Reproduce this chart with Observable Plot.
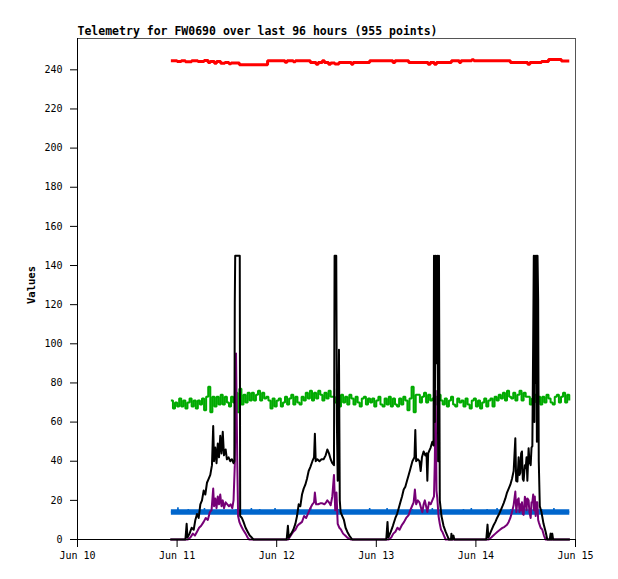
<!DOCTYPE html>
<html><head><meta charset="utf-8">
<script src="https://cdn.jsdelivr.net/npm/d3@7"></script>
<script src="https://cdn.jsdelivr.net/npm/@observablehq/plot@0.6"></script>
<style>html,body{margin:0;padding:0;background:#fff} svg{display:block}</style>
</head><body><div id="chart"></div>
<script>
const titleText = "Telemetry for FW0690 over last 96 hours (955 points)";
const yLabel = "Values";
const dayTicks = ["2024-06-10", "2024-06-11", "2024-06-12", "2024-06-13", "2024-06-14", "2024-06-15"];
const yTicks = [0, 20, 40, 60, 80, 100, 120, 140, 160, 180, 200, 220, 240];

// readings: [hours since Jun 10 00:00, value]
const redReadings = [[22.5,244.6],[24,244.3],[25,244.6],[26,244.1],[27.5,244.6],[29,244.3],[30.5,244.8],[31.5,243.8],[32,244.3],[33,243.3],
 [33.5,244.3],[34.5,243.3],[35.5,243.8],[36.5,243.1],[37,243.5],[39,242.6],[45.8,244.6],[50,243.9],[50.5,244.6],[52,244.1],
 [52.5,244.6],[56.1,243.8],[57.5,242.8],[58,243.8],[59,244.6],[59.5,243.8],[60.5,242.8],[61,243.5],[62,243],[63,243.8],
 [66,242.9],[66.4,243.8],[70.4,244.6],[76,243.7],[76.5,244.6],[79.8,243.8],[84.5,242.9],[85,243.8],[86,242.9],[86.5,243.8],
 [90.1,244.6],[92,243.8],[92.4,244.6],[95,245.1],[95.5,244.6],[104.3,243.8],[108.5,242.9],[109,243.8],[111.8,244.3],[113.5,245.3],
 [116.6,244.5],[118.5,244.5]];

const greenStartHour = 22.5, greenStepHours = 0.5;
const greenValues = [
 71,67,70,68,72,68,71,67,70,72,68,71,67,71,69,
 72,66,73,78,65,73,68,
 73,69,74,69,73,70,68,73,70,
 75,65,77,69,74,70,75,71,
 75,71,74,76,71,75,72,73,
 71,67,72,68,71,72,68,70,
 73,69,72,74,69,73,70,69,73,71,
 75,72,76,71,75,72,76,74,71,75,72,76,73,
 73,70,77,68,74,70,73,69,74,
 72,69,73,70,68,72,73,69,72,70,
 72,68,71,73,69,68,72,69,73,68,72,69,68,72,69,73,
 71,66,72,78,65,74,
 74,70,73,75,70,74,71,72,
 73,69,74,
 71,69,72,68,71,73,69,68,72,70,
 71,68,72,69,67,71,72,68,71,67,70,72,68,71,72,68,
 73,71,74,72,75,71,76,73,72,75,71,74,76,71,75,73,
 73,69,72,74,70,73,69,73,70,74,72,70,69,73,74,70,73,75,70,74,71];

const blueReadings = [[22.5,14],[23,14],
 [24.1,14],[24.2,16.5],[24.3,14],[26.6,14],[26.7,15.5],[26.8,14],[30.5,14],[30.6,16],[30.7,14],[34,14],
 [38.1,14],[38.2,15.5],[38.3,14],[41.8,14],[41.9,16],[42,14],[43.8,14],[43.9,15.5],[44,14],
 [47.5,14],[47.6,16],[47.7,14],[53.2,14],[53.3,15.5],[53.4,14],[56.1,14],[56.2,16],[56.3,14],
 [62.7,14],[62.8,15.5],[62.9,14],[70.3,14],[70.4,16],[70.5,14],[74.5,14],[74.6,16],[74.7,14],
 [80.6,14],[80.7,15.5],[80.8,14],[85.4,14],[85.5,16],[85.6,14],[92.9,14],[93,15.5],[93.1,14],
 [94.8,14],[94.9,16],[95,14],[98.6,14],[98.7,15.5],[98.8,14],[101,14],[101.1,16],[101.2,14],
 [104.3,14],[104.4,15.5],[104.5,14],[108.1,14],[108.2,16],[108.3,14],[111.8,14],[111.9,15.5],[112,14],
 [114.7,14],[114.8,16],[114.9,14],[118.5,14]];

const blackReadings = [
 [22.5,0],[26,0],[26.3,8],[26.5,1],[27,3],[27.5,6],[28,5],[28.4,10],[28.8,13],[29.2,11],[29.6,18],[30,20],[30.4,25],[30.8,23],
 [31.2,29],[31.6,31],[32,33],[32.4,38],[32.7,58],[32.9,40],[33.2,47],[33.5,39],[33.8,49],[34.1,42],[34.4,53],[34.7,44],[35,55],
 [35.3,43],[35.7,46],[36,41],[36.4,42],[36.8,40],[37.2,41],[37.6,39],[37.8,40],[37.9,121],[38,145],[39.1,145],[39.2,12],[39.6,11],
 [40,9],[40.5,6],[41,4],[41.5,2],[42,1],[42.4,0],
 [50.4,0],[50.7,7],[50.9,1],[51.5,3],[52,5],[52.5,8],[52.9,12],[53.3,18],[53.7,17],[54.1,23],[54.5,26],[54.9,28],[55.3,31],
 [55.7,35],[56.1,37],[56.6,40],[57,42],[57.2,54],[57.4,40],[57.8,41],[58.3,40],[58.8,41],[59.3,41],[59.8,43],[60.2,46],[60.6,44],
 [61,41],[61.4,39],[61.8,38],[61.95,145],[62.35,145],[62.5,60],[62.7,30],[63,97],[63.2,20],[63.4,14],[63.8,12],[64.2,10],[64.6,6],
 [65,4],[65.5,2],[66.2,0],
 [74.4,0],[74.7,9],[74.9,1],[75.5,4],[76,7],[76.6,11],[77,13],[77.4,16],[77.8,19],[78.2,22],[78.6,25.5],[79,27],[79.4,30],[79.8,33],
 [80.2,36],[80.7,40],[81.2,42],[81.4,56],[81.6,40],[82,41],[82.4,40],[82.7,35],[83,42],[83.4,45],[83.8,43],[84.1,44],[84.3,30],
 [84.5,44],[84.7,45],[85.1,47],[85.5,50],[85.8,48],[85.9,145],[86.1,60],[86.3,145],[86.5,90],[86.7,145],[86.9,40],[87.1,145],
 [87.3,20],[87.7,12],[88.2,7],[88.7,4],[89.1,2],[89.5,0],[90,0],[90.1,3],[90.3,0],[90.6,2],[90.8,0],
 [98.5,0],[98.8,7.6],[99,1],[99.6,4],[100.2,7],[100.7,9],[101.1,11],[101.5,12.6],[102,15],[102.4,17],[102.7,18.6],[103.1,21],
 [103.5,24],[103.9,26],[104.3,28],[104.7,31],[105.1,35],[105.5,51.7],[105.7,30],[106,29.6],[106.3,42],[106.5,33],[106.7,34],
 [106.9,44],[107.1,45],[107.3,31],[107.5,30],[107.8,38],[108,36.4],[108.2,42],[108.4,30],[108.7,46.6],[108.9,40],[109.2,38],
 [109.4,47],[109.6,47.7],[109.8,101],[109.95,145],[110.1,60],[110.25,145],[110.4,80],[110.55,145],[110.7,50],[110.85,145],
 [111,123],[111.15,40],[111.4,17],[111.8,14],[112.3,8],[112.8,4],[113.2,0],[113.8,0],[114,3],[114.2,0],[114.4,3],[114.6,0],[118.5,0]];

const purpleReadings = [
 [22.5,0],[26.6,0],[27.2,1],[27.8,3],[28.3,2],[28.8,4],[29.3,6],[29.8,7],[30.4,9],[30.9,11],[31.4,10],[31.9,14],[32.3,15],[32.7,26],
 [32.9,17],[33.2,21],[33.5,16],[33.8,22],[34.1,18],[34.4,23],[34.7,17],[35,20],[35.3,16],[35.7,19],[36.1,18],[36.5,17],[36.9,18],
 [37.3,16],[37.6,20],[37.9,38],[38.2,95],[38.5,40],[38.7,12],[39,9],[39.4,7],[39.9,5],[40.5,3],[41,1],[41.4,0],
 [50.8,0],[51.4,2],[52,4],[52.5,5],[53,7],[53.5,8],[54.1,9],[54.6,12],[55.1,11],[55.7,14],[56.1,16],[56.6,18],[57,19],[57.2,24],
 [57.5,18],[58,18],[58.5,18.5],[59,18.5],[59.5,18],[59.9,19],[60.2,20],[60.6,19],[61,17.5],[61.4,22],[61.8,33],[62.1,15],[62.4,24],
 [62.7,8],[63.1,6],[63.5,5],[64,3],[64.5,2],[65,1],[65.8,0],
 [75,0],[75.6,1],[76.1,3],[76.6,4],[77.1,6],[77.6,5],[78.2,7.5],[78.7,9],[79.2,11],[79.8,12.5],[80.2,15],[80.7,17.5],[81,19],
 [81.3,25.5],[81.6,18],[82,20],[82.4,19],[82.8,16],[83.1,14],[83.4,18],[83.7,20],[84,17],[84.3,14],[84.7,19],[85.1,18],[85.5,20],
 [85.9,22],[86.1,40],[86.3,76],[86.5,25],[86.7,21],[87,12],[87.3,8],[87.6,5],[87.9,4],[88.3,2],[88.7,0],
 [99.1,0],[99.7,1],[100.2,2],[100.7,3],[101.2,4],[101.8,5],[102.3,5.8],[102.9,6.5],[103.5,7.5],[103.9,9],[104.3,11],[104.7,14],
 [105.1,17.7],[105.5,24.5],[105.75,14],[106,20],[106.3,21],[106.5,14],[106.7,18],[106.9,15],[107.1,19],[107.3,13],[107.5,12.6],
 [107.8,21.8],[108,20],[108.2,15],[108.4,21],[108.7,20],[108.9,14],[109.2,11],[109.4,19],[109.6,19],[109.8,23],[110,15],[110.2,22],
 [110.4,12],[110.6,19],[110.8,19],[111,10],[111.2,8.5],[111.6,6],[112,5],[112.4,2],[112.8,0],[118.5,0]];

const base = Date.UTC(2024, 5, 10);
const toDate = h => new Date(base + h * 3600000);
const fromPairs = arr => arr.map(([h, v]) => ({t: toDate(h), v}));
const red = fromPairs(redReadings);
const blue = fromPairs(blueReadings);
const black = fromPairs(blackReadings);
const purple = fromPairs(purpleReadings);
const green = greenValues.map((v, i) => ({t: toDate(greenStartHour + i * greenStepHours), v}));
const fmt = d3.utcFormat("%b %d");

const chart = Plot.plot({
  width: 618, height: 579,
  marginLeft: 77, marginRight: 43, marginTop: 38, marginBottom: 40,
  style: {fontFamily: "'DejaVu Sans Mono', monospace", fontSize: "10px", background: "#fff", color: "#000", overflow: "visible"},
  x: {type: "utc", domain: [new Date(dayTicks[0]), new Date(dayTicks[dayTicks.length - 1])]},
  y: {domain: [0, 256]},
  marks: [
    Plot.frame({stroke: "#555"}),
    Plot.line(red, {x: "t", y: "v", stroke: "#ff0000", strokeWidth: 3, curve: "step-after", strokeLinejoin: "miter", strokeLinecap: "butt"}),
    Plot.line(green, {x: "t", y: "v", stroke: "#00aa00", strokeWidth: 2, curve: "step-after", strokeLinejoin: "miter", strokeLinecap: "butt"}),
    // thick blue band, with its small upward blips drawn as a thin stroke on top
    Plot.line(blue, {x: "t", y: d => Math.min(d.v, 14), stroke: "#0066cc", strokeWidth: 5.5, strokeLinecap: "butt"}),
    Plot.line(blue, {x: "t", y: "v", stroke: "#0066cc", strokeWidth: 1.5, strokeLinejoin: "miter", strokeLinecap: "butt"}),
    Plot.line(purple, {x: "t", y: "v", stroke: "#760076", strokeWidth: 2}),
    Plot.line(black, {x: "t", y: "v", stroke: "#000", strokeWidth: 2}),
    Plot.ruleY([0], {stroke: "#000"}),
    Plot.ruleX([new Date(dayTicks[0])], {stroke: "#000"}),
    Plot.axisY({ticks: yTicks, tickSize: 7, tickPadding: 8, label: null}),
    Plot.axisX({ticks: dayTicks.map(d => new Date(d)), tickSize: 8, tickPadding: 4, tickFormat: fmt, label: null}),
    Plot.text([titleText], {frameAnchor: "top-left", textAnchor: "start", lineAnchor: "middle", dy: -7.5, fontWeight: "bold", fontSize: 11.5}),
    Plot.text([yLabel], {frameAnchor: "left", textAnchor: "middle", lineAnchor: "middle", dx: -46, dy: -4, rotate: -90, fontWeight: "bold", fontSize: 10.5})
  ]
});
document.getElementById("chart").appendChild(chart);
</script>
</body></html>
